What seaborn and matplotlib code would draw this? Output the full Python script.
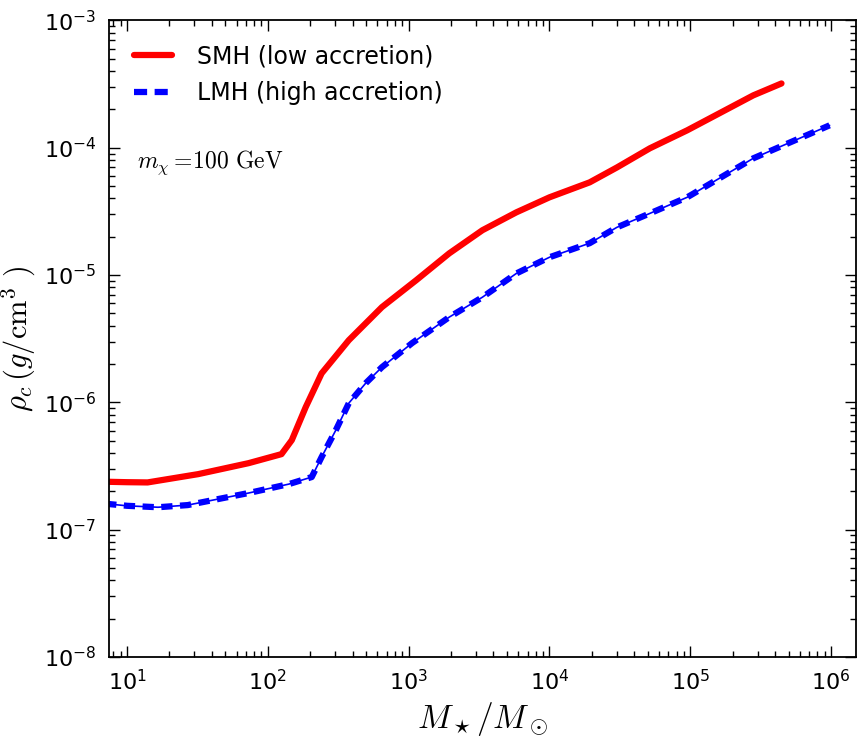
import numpy as np
import pandas as pd
import matplotlib
matplotlib.use("Agg")
import matplotlib.pyplot as plt
import seaborn as sns

# Data (M_star / M_sun, rho_c in g/cm^3)
smh_mass = [7.0, 10, 14, 32, 73, 125, 148, 186, 241, 376, 646, 1130, 1940, 3340,
            5820, 10000, 19300, 30100, 51600, 94900, 2.8e5, 4.44e5]
smh_rho = [2.38e-7, 2.36e-7, 2.35e-7, 2.73e-7, 3.33e-7, 3.92e-7, 5.05e-7, 9.2e-7,
           1.69e-6, 3.08e-6, 5.6e-6, 9.1e-6, 1.48e-5, 2.25e-5, 3.11e-5, 4.08e-5,
           5.35e-5, 7.0e-5, 9.9e-5, 1.37e-4, 2.58e-4, 3.2e-4]

lmh_mass = [7.0, 10, 16.6, 27, 73, 141, 205, 241, 304, 376, 497, 646, 1057, 1940,
            3340, 5820, 10000, 19300, 30100, 51600, 94900, 2.8e5, 9.75e5]
lmh_rho = [1.60e-7, 1.54e-7, 1.50e-7, 1.56e-7, 1.94e-7, 2.28e-7, 2.59e-7, 3.72e-7,
           6.05e-7, 9.86e-7, 1.42e-6, 1.89e-6, 2.92e-6, 4.67e-6, 6.7e-6, 1.03e-5,
           1.38e-5, 1.78e-5, 2.37e-5, 3.05e-5, 4.08e-5, 8.26e-5, 1.5e-4]

labels = ["SMH (low accretion)", "LMH (high accretion)"]

sns.set_style("ticks")
plt.rcParams["mathtext.fontset"] = "cm"
plt.rcParams["font.family"] = ["DejaVu Sans"]
plt.rcParams["axes.unicode_minus"] = False
for k in ["text.color", "axes.labelcolor", "xtick.color", "ytick.color",
          "axes.edgecolor"]:
    plt.rcParams[k] = "black"

fig = plt.figure(figsize=(8.65, 7.41), dpi=100)
ax = fig.add_axes([0.126, 0.1134, 0.864, 0.859])

df_s = pd.DataFrame({"M": smh_mass, "rho": smh_rho})
df_l = pd.DataFrame({"M": lmh_mass, "rho": lmh_rho})

sns.lineplot(data=df_s, x="M", y="rho", ax=ax, color="red", lw=4.5,
             label=labels[0], sort=False)
sns.lineplot(data=df_l, x="M", y="rho", ax=ax, color="blue", lw=1.2,
             sort=False, legend=False)
sns.lineplot(data=df_l, x="M", y="rho", ax=ax, color="blue", lw=4.5,
             dashes=False, label=labels[1], sort=False)
ax.lines[-1].set_linestyle((0, (1.8, 1.2)))

ax.set_xscale("log")
ax.set_yscale("log")
ax.set_xlim(7.45, 1.51e6)
ax.set_ylim(1e-8, 1e-3)

ax.tick_params(which="both", direction="in", top=True, right=True,
               labelsize=16, pad=9, width=1, colors="black")
ax.tick_params(which="major", length=8)
ax.tick_params(which="minor", length=4.5)
for s in ax.spines.values():
    s.set_linewidth(1.3)
    s.set_color("black")

ax.set_xlabel(r"$M_\star/M_\odot$", fontsize=24, labelpad=4)
ax.set_ylabel(r"$\rho_c\,(g/\mathrm{cm}^3\ )$", fontsize=22, labelpad=4)

leg = ax.legend(loc="upper left", frameon=False, fontsize=17,
                handlelength=1.6, handletextpad=1.05, labelspacing=0.55,
                bbox_to_anchor=(0.015, 0.985), borderaxespad=0.2)
for h in leg.get_lines():
    h.set_linewidth(4.5)
leg.get_lines()[1].set_linestyle((0, (2.1, 1.2)))

ax.text(0.037, 0.776, r"$m_\chi=\!100\ \mathrm{GeV}$", transform=ax.transAxes,
        fontsize=17, va="center", ha="left")

fig.savefig("out.png", dpi=100)
